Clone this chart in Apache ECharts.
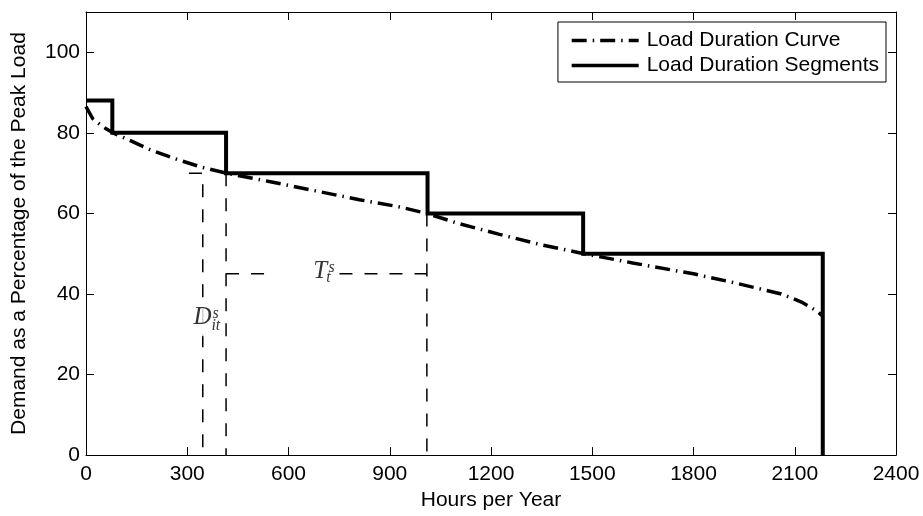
<!DOCTYPE html>
<html><head><meta charset="utf-8">
<script src="https://cdn.jsdelivr.net/npm/echarts@6/dist/echarts.min.js"></script>
<style>html,body{margin:0;padding:0;background:#fff}#c{width:923px;height:516px}</style>
</head><body><div id="c"></div>
<script>
// ---- data ----
const curveHours  = [0, 20, 50, 80, 120, 190, 270, 346, 415, 550, 680, 810, 930, 1010, 1100, 1225, 1350, 1475, 1620, 1800, 1920, 2060, 2120, 2165, 2183];
const curveDemand = [86.5, 83.5, 81.5, 80, 78.5, 75.8, 73.4, 71.4, 70, 67.8, 65.6, 63.4, 61.6, 60, 57.6, 54.8, 52.2, 50, 47.7, 45, 42.8, 40, 38, 35.8, 34.5];
const segEdges  = [0, 78, 415, 1012, 1473, 2183];
const segLevels = [88, 80, 70, 60, 50];
const guideXs = [[305, 346, 346], [415, 415], [415, 529], [751, 1010], [1010, 1010]];
const guideYs = [[70, 70, 0], [70, 0], [45, 45], [45, 45], [60, 0]];
const annotText = ['D', 's', 'it', 'T', 's', 't'];
const annotX    = [314, 373, 370, 669, 717, 710];
const annotY    = [34.1, 35.1, 32.0, 45.7, 46.6, 43.9];
const annotRole = ['main', 'sup', 'sub', 'main', 'sup', 'sub'];
const xMin = 0, xMax = 2400, xStep = 300;
const yMin = 0, yMax = 110, yStep = 20;
const names = ['Load Duration Curve', 'Load Duration Segments'];

// ---- build ----
const curveData = curveHours.map((h, i) => [h, curveDemand[i]]);
const segData = [];
segLevels.forEach((v, i) => { segData.push([segEdges[i], v]); segData.push([segEdges[i + 1], v]); });
segData.push([segEdges[segEdges.length - 1], 0]);

const font = '"Liberation Sans", Arial, Helvetica, sans-serif';
const serif = '"Liberation Serif", "Times New Roman", serif';

const guideSeries = guideXs.map((xs, k) => ({
  type: 'line', silent: true, symbol: 'none', z: 1,
  data: xs.map((x, i) => [x, guideYs[k][i]]),
  itemStyle: { color: '#000' },
  lineStyle: { color: '#000', width: 1.5, type: [13, 12] }
}));

const annotData = annotText.map((t, i) => {
  const main = annotRole[i] === 'main';
  return {
    value: [annotX[i], annotY[i]],
    label: {
      show: true, position: 'right', distance: 0,
      formatter: t,
      fontFamily: serif, fontStyle: 'italic',
      fontSize: main ? 25 : 16,
      color: '#000',
      backgroundColor: main ? '#fff' : 'transparent',
      padding: main ? [6, 1, 6, 1] : 0
    }
  };
});

const plain = v => String(v);

const axisCommonX = {
  type: 'value', min: xMin, max: xMax, interval: xStep,
  axisLine: { show: true, onZero: false, lineStyle: { color: '#000', width: 1 } },
  axisTick: { show: true, inside: true, length: 8, lineStyle: { color: '#000', width: 1 } },
  splitLine: { show: false }
};
const axisCommonY = {
  type: 'value', min: yMin, max: yMax, interval: yStep,
  axisLine: { show: true, onZero: false, lineStyle: { color: '#000', width: 1 } },
  axisTick: { show: true, inside: true, length: 8, lineStyle: { color: '#000', width: 1 } },
  splitLine: { show: false }
};

const chart = echarts.init(document.getElementById('c'), null, { renderer: 'canvas' });
chart.setOption({
  animation: false,
  backgroundColor: '#fff',
  color: ['#000', '#000'],
  textStyle: { fontFamily: font },
  grid: { left: 86, right: 27, top: 12, bottom: 54, containLabel: false },
  legend: {
    orient: 'vertical', right: 37, top: 22,
    data: names,
    itemWidth: 67, itemHeight: 21, itemGap: 4,
    padding: [8, 7, 6, 12],
    borderColor: '#000', borderWidth: 1, borderRadius: 0,
    backgroundColor: '#fff',
    textStyle: { fontFamily: font, fontSize: 21, color: '#000', padding: [0, 0, 0, 3] },
    itemStyle: { color: 'rgba(0,0,0,0)', borderWidth: 0, opacity: 0 },
    lineStyle: { width: 3.5, color: '#000', opacity: 1 },
    selectedMode: false
  },
  xAxis: [
    Object.assign({}, axisCommonX, {
      position: 'bottom',
      name: 'Hours per Year', nameLocation: 'middle', nameGap: 34,
      nameTextStyle: { fontFamily: font, fontSize: 21, color: '#000' },
      axisLabel: { show: true, margin: 9, fontFamily: font, fontSize: 21, color: '#000', formatter: plain }
    }),
    Object.assign({}, axisCommonX, { position: 'top', axisLabel: { show: false } })
  ],
  yAxis: [
    Object.assign({}, axisCommonY, {
      position: 'left',
      name: 'Demand as a Percentage of the Peak Load', nameLocation: 'middle', nameGap: 56,
      nameTextStyle: { fontFamily: font, fontSize: 21, color: '#000' },
      axisLabel: { show: true, margin: 6, showMaxLabel: false, fontFamily: font, fontSize: 21, color: '#000', formatter: plain }
    }),
    Object.assign({}, axisCommonY, { position: 'right', axisLabel: { show: false } })
  ],
  series: [
    {
      name: names[0], type: 'line', symbol: 'none', showSymbol: false, z: 3,
      data: curveData,
      itemStyle: { color: '#000' },
      lineStyle: { color: '#000', width: 3.5, type: [15, 6, 1.5, 6], cap: 'butt' }
    },
    {
      name: names[1], type: 'line', symbol: 'none', showSymbol: false, z: 4,
      data: segData,
      itemStyle: { color: '#000' },
      lineStyle: { color: '#000', width: 4, type: 'solid', join: 'miter' }
    }
  ].concat(guideSeries).concat([{
    type: 'scatter', silent: true, z: 5,
    symbol: 'circle', symbolSize: 1,
    itemStyle: { color: 'rgba(0,0,0,0)' },
    data: annotData
  }])
});
</script>
</body></html>
